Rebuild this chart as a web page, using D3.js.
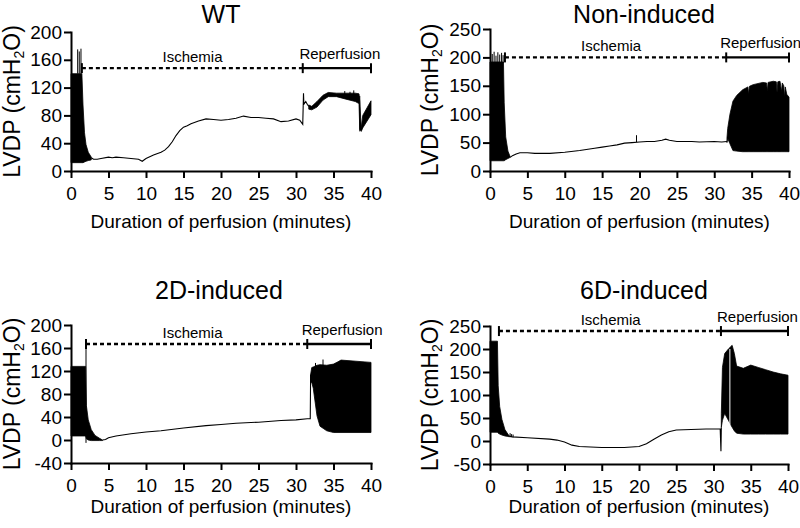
<!DOCTYPE html>
<html><head><meta charset="utf-8">
<script src="https://cdn.jsdelivr.net/npm/d3@7"></script>
<style>
body{margin:0;background:#fff}
svg{display:block}
text{font-family:"Liberation Sans",Arial,Helvetica,sans-serif;fill:#000}
</style>
</head><body>
<svg id="c" width="800" height="528"></svg>
<script>
// ---------------- DATA ----------------
const titles = ["WT", "Non-induced", "2D-induced", "6D-induced"];
const xTicks = [0, 5, 10, 15, 20, 25, 30, 35, 40];
const yTicksWT = [0, 40, 80, 120, 160, 200];
const yTicksNI = [0, 50, 100, 150, 200, 250];
const yTicks2D = [-40, 0, 40, 80, 120, 160, 200];
const yTicks6D = [-50, 0, 50, 100, 150, 200, 250];
const xLabel = "Duration of perfusion (minutes)";
const ischemiaLabel = "Ischemia";
const reperfusionLabel = "Reperfusion";

// annotation bars: [ischemia start, reperfusion start, end, level]
const annWT = [1.45, 30.9, 40, 148];
const annNI = [2.0, 31.6, 40, 200];
const ann2D = [2.0, 31.5, 40, 167];
const ann6D = [1.2, 31.0, 40, 239];

// oscillating segments: [time, upper envelope, lower envelope]
const wtBand1 = [[0,140,12],[1.45,140,12],[1.6,95,12],[1.8,55,13],[2.0,38,14],[2.3,27,15],[2.7,20,16]];
const wtBand2 = [[31.7,95,89],[32.1,93,88],[32.8,100,92],[33.6,109,102],[34.3,113,107],[35.4,112,107],[36.8,112,103],[37.9,112,100],[38.4,111,97],[38.5,100,60],[38.7,62,57],[38.9,80,62],[40,101,81]];
// single trace: [time, value]
const wtLine = [[2.7,19],[3,17],[3.5,17],[4,18],[5,20],[5.5,19],[6,20],[7,19],[8,18],[9,17],[9.5,14],[10,18],[11,23],[12,27],[12.5,30],[13,35],[13.5,42],[14,51],[14.5,58],[15,63],[15.5,65],[16,68],[17,72],[18,75],[19,74],[20,73],[21,74],[22,76],[23,79],[24,77],[25,77],[26,76],[27,75],[28,71],[29,72],[30,75],[30.5,73],[30.9,67],[31.0,112],[31.05,96],[31.3,100],[31.5,96],[31.7,93]];
// spikes: [time, from, to]
const wtSpikes = [[0.89,140,175],[1.1,140,172],[1.33,140,176],[38.5,57,108],[36.5,110,115],[37.2,110,114],[37.7,110,116]];

const niBand1 = [[0,192,18],[1.8,192,18],[1.9,120,18],[2.1,60,20],[2.4,35,22],[2.7,25,24]];
const niBand2 = [[31.7,58,50],[31.8,75,57],[32.1,100,48],[32.5,123,36],[33,133,35],[33.8,143,34],[34.5,148,34],[34.6,135,34],[34.7,149,34],[35.2,152,34],[36.5,156,34],[37,155,34],[37.1,140,34],[37.2,156,34],[37.9,158,34],[38.3,157,34],[38.4,138,34],[38.5,157,34],[38.8,158,34],[39,140,34],[39.1,155,34],[39.3,150,34],[39.4,130,34],[39.5,148,34],[39.7,135,34],[40,130,34]];
const niLine = [[2.7,24],[3,27],[3.5,30],[4,32],[5,32],[6,31],[8,31],[10,33],[12,36],[14,40],[15,42],[16,44],[17,46],[18,49],[19,50],[20,51],[21,52],[22,52],[23,54],[23.5,56],[24,54],[25,52],[27,52],[28,51],[30,52],[31,51],[31.7,52]];
const niSpikes = [[0.3,190,206],[0.55,190,210],[0.8,190,203],[1.05,190,209],[1.3,190,205],[1.55,190,208],[1.75,190,204],[19.6,51,63]];

const d2Band1 = [[0,128,7],[1.95,128,7],[2.05,60,2],[2.3,35,0],[2.7,18,-1],[3.2,8,-1],[3.8,3,-1],[4.2,0,-1]];
const d2Band2 = [[31.95,114,100],[32.1,126,100],[32.3,127,90],[32.8,130,42],[33.2,131,24],[34.1,130,16],[35,132,13],[35.6,136,13],[36,139,13],[38,137,13],[40,135,13]];
const d2Line = [[4.2,0],[4.6,1],[5,4],[6,7],[8,11],[10,14],[12,16],[15,21],[18,25],[20,27],[22,29],[25,31],[28,34],[30,35],[31.5,37],[31.9,37],[31.95,114]];
const d2Spikes = [[2.0,-5,173],[33.6,130,140],[32.6,128,134]];

const d6Band1 = [[0,217,19],[1.0,217,19],[1.1,120,17],[1.3,75,15],[1.6,47,13],[2.0,25,11],[2.4,15,10],[2.6,11,9]];
const d6Band2 = [[31.05,60,30],[31.2,160,45],[31.5,190,60],[32.0,200,45],[32.5,208,30],[32.8,190,22],[33.1,163,17],[34,158,15],[35,165,15],[36,160,15],[37,155,15],[38,150,15],[39,146,15],[40,143,15]];
const d6Line = [[2.6,10],[3,9],[5,7],[8,4],[9,2],[10,-2],[11,-9],[12,-12],[15,-14],[18,-14],[20,-12],[21,-6],[22,4],[23,13],[24,20],[25,24],[27,25],[29,26],[30.9,26],[31.0,-22],[31.05,30]];
const d6Spikes = [[2.7,9,17],[2.9,9,15],[3.1,8,14]];
const d6Gaps = [[32.2,35,200]];

// ---------------- LAYOUT ----------------
const panels = [
  {title:titles[0], yDom:[0,200],  yTicks:yTicksWT, ann:annWT, bands:[wtBand1,wtBand2], line:wtLine, spikes:wtSpikes, gaps:[],
   x0:71, x1:371, yTop:32, yBot:171, titleX:221, titleY:23, yLabelX:20, xLabelY:228},
  {title:titles[1], yDom:[0,250],  yTicks:yTicksNI, ann:annNI, bands:[niBand1,niBand2], line:niLine, spikes:niSpikes, gaps:[],
   x0:490, x1:789, yTop:29, yBot:171, titleX:644, titleY:23, yLabelX:438, xLabelY:228},
  {title:titles[2], yDom:[-40,200],yTicks:yTicks2D, ann:ann2D, bands:[d2Band1,d2Band2], line:d2Line, spikes:d2Spikes, gaps:[],
   x0:71, x1:371, yTop:325, yBot:463, titleX:219, titleY:299, yLabelX:20, xLabelY:513},
  {title:titles[3], yDom:[-50,250],yTicks:yTicks6D, ann:ann6D, bands:[d6Band1,d6Band2], line:d6Line, spikes:d6Spikes, gaps:d6Gaps,
   x0:490, x1:788, yTop:326, yBot:464, titleX:644, titleY:299, yLabelX:438, xLabelY:513}
];

const svg = d3.select("#c");
const FS = 19;

panels.forEach(p => {
  const x = d3.scaleLinear().domain([0, 40]).range([p.x0, p.x1]);
  const y = d3.scaleLinear().domain(p.yDom).range([p.yBot, p.yTop]);
  const g = svg.append("g");

  // traces
  const area = d3.area().x(d => x(d[0])).y0(d => y(d[2])).y1(d => y(d[1]));
  p.bands.forEach(b => {
    g.append("path").datum(b).attr("d", area)
      .attr("fill", "#000").attr("stroke", "#000").attr("stroke-width", 0.8);
  });
  const line = d3.line().x(d => x(d[0])).y(d => y(d[1]));
  g.append("path").datum(p.line).attr("d", line)
    .attr("fill", "none").attr("stroke", "#000").attr("stroke-width", 1.1);
  g.selectAll(".spk").data(p.spikes).join("line")
    .attr("x1", d => x(d[0])).attr("x2", d => x(d[0]))
    .attr("y1", d => y(d[1])).attr("y2", d => y(d[2]))
    .attr("stroke", "#000").attr("stroke-width", 1);
  g.selectAll(".gap").data(p.gaps).join("line")
    .attr("x1", d => x(d[0])).attr("x2", d => x(d[0]))
    .attr("y1", d => y(d[1])).attr("y2", d => y(d[2]))
    .attr("stroke", "#fff").attr("stroke-width", 1);

  // axes
  const xa = g.append("g").attr("transform", `translate(0,${p.yBot})`)
    .call(d3.axisBottom(x).tickValues(xTicks).tickSize(7).tickSizeOuter(0).tickPadding(9).tickFormat(d => String(d)));
  const ya = g.append("g").attr("transform", `translate(${p.x0},0)`)
    .call(d3.axisLeft(y).tickValues(p.yTicks).tickSize(7).tickSizeOuter(0).tickPadding(2).tickFormat(d => String(d)));
  [xa, ya].forEach(a => {
    a.select(".domain").attr("stroke", "#000").attr("stroke-width", 2).attr("stroke-linecap", "square");
    a.selectAll(".tick line").attr("stroke", "#000").attr("stroke-width", 2);
    a.selectAll("text").attr("font-size", FS).attr("font-family", '"Liberation Sans",Arial,sans-serif').attr("fill", "#000");
  });

  // title
  g.append("text").attr("x", p.titleX).attr("y", p.titleY).attr("text-anchor", "middle")
    .attr("font-size", 25).text(p.title);

  // x label
  g.append("text").attr("x", (p.x0 + p.x1) / 2).attr("y", p.xLabelY).attr("text-anchor", "middle")
    .attr("font-size", FS).text(xLabel);

  // y label
  const yl = g.append("text")
    .attr("transform", `translate(${p.yLabelX},${(p.yTop + p.yBot) / 2}) rotate(-90)`)
    .attr("text-anchor", "middle").attr("font-size", 23);
  yl.append("tspan").text("LVDP (cmH");
  yl.append("tspan").attr("font-size", 14).attr("dy", 4).text("2");
  yl.append("tspan").attr("dy", -4).text("O)");

  // annotation bars
  const a = p.ann, ly = y(a[3]);
  g.append("line").attr("x1", x(a[0])).attr("x2", x(a[1])).attr("y1", ly).attr("y2", ly)
    .attr("stroke", "#000").attr("stroke-width", 2.4).attr("stroke-dasharray", "4,3");
  g.append("line").attr("x1", x(a[0])).attr("x2", x(a[0])).attr("y1", ly - 5).attr("y2", ly + 5)
    .attr("stroke", "#000").attr("stroke-width", 2);
  g.append("line").attr("x1", x(a[1])).attr("x2", x(a[2])).attr("y1", ly).attr("y2", ly)
    .attr("stroke", "#000").attr("stroke-width", 2.4);
  [a[1], a[2]].forEach(t => {
    g.append("line").attr("x1", x(t)).attr("x2", x(t)).attr("y1", ly - 5).attr("y2", ly + 5)
      .attr("stroke", "#000").attr("stroke-width", 2);
  });
  g.append("text").attr("x", x(16.2)).attr("y", ly - 6).attr("text-anchor", "middle")
    .attr("font-size", 15).text(ischemiaLabel);
  g.append("text").attr("x", x((a[1] + a[2]) / 2) + 3).attr("y", ly - 9).attr("text-anchor", "middle")
    .attr("font-size", 15).text(reperfusionLabel);
});
</script>
</body></html>
